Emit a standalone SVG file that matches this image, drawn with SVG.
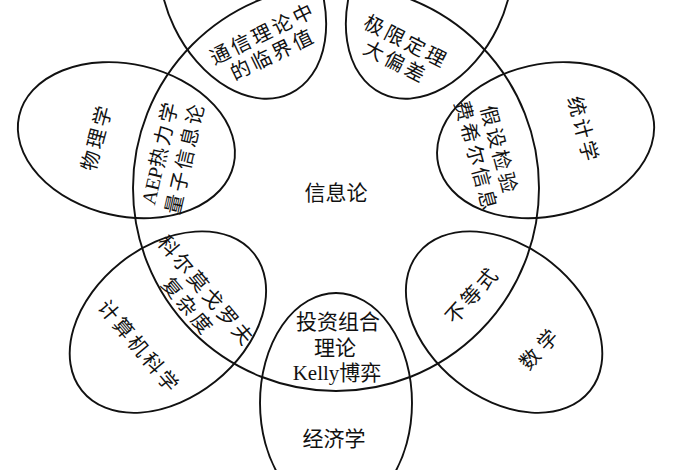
<svg xmlns="http://www.w3.org/2000/svg" width="700" height="470" viewBox="0 0 700 470">
<style>
.ring{fill:none;stroke:#111;stroke-width:1.9}
text{font-family:"Liberation Serif","Noto Sans CJK SC",serif;fill:#111;text-anchor:middle;dominant-baseline:central}
.t{font-size:20px;letter-spacing:3px}
.c{font-size:21px}
.lat{letter-spacing:0}
</style>
<rect width="700" height="470" fill="#fff"/>
<g id="info-theory">
<circle class="ring" cx="336" cy="188" r="203"/>
<text class="c" x="336" y="193">信息论</text>
</g>
<g id="communication">
<ellipse class="ring" rx="110" ry="76" transform="translate(242.7,-5.7) rotate(244.29)"/>
<g transform="translate(268,44) rotate(-26)"><text class="t" x="0" y="-11.5">通信理论中</text><text class="t" x="0" y="11.5">的临界值</text></g>
</g>
<g id="probability">
<ellipse class="ring" rx="110" ry="76" transform="translate(429.3,-5.7) rotate(295.71)"/>
<g transform="translate(401,52) rotate(27)"><text class="t" x="0" y="-11.5">极限定理</text><text class="t" x="0" y="11.5">大偏差</text></g>
</g>
<g id="physics">
<ellipse class="ring" rx="110" ry="76" transform="translate(126.4,140.2) rotate(192.86)"/>
<g transform="translate(97,137) rotate(-75)"><text class="t" x="0" y="0">物理学</text></g>
<g transform="translate(172.5,155) rotate(-77)"><text class="t" x="0" y="-13"><tspan class="lat">AEP</tspan>热力学</text><text class="t" x="0" y="13">量子信息论</text></g>
</g>
<g id="statistics">
<ellipse class="ring" rx="110" ry="76" transform="translate(545.6,140.2) rotate(347.14)"/>
<g transform="translate(583,130) rotate(75)"><text class="t" x="0" y="0">统计学</text></g>
<g transform="translate(487.5,153.5) rotate(75)"><text class="t" x="0" y="-12">假设检验</text><text class="t" x="0" y="12">费希尔信息</text></g>
</g>
<g id="computer-science">
<ellipse class="ring" rx="110" ry="76" transform="translate(167.9,322.1) rotate(141.43)"/>
<g transform="translate(139,347) rotate(50)"><text class="t" x="0" y="0">计算机科学</text></g>
<g transform="translate(197,299) rotate(50)"><text class="t" x="0" y="-12">科尔莫戈罗夫</text><text class="t" x="0" y="12">复杂度</text></g>
</g>
<g id="mathematics">
<ellipse class="ring" rx="110" ry="76" transform="translate(504.1,322.1) rotate(38.57)"/>
<g transform="translate(472.5,295) rotate(-48)"><text class="t" x="0" y="0">不等式</text></g>
<g transform="translate(541,347.5) rotate(-47)"><text class="t" x="0" y="0" style="letter-spacing:6px">数学</text></g>
</g>
<g id="economics">
<ellipse class="ring" rx="110" ry="76" transform="translate(336,403) rotate(90)"/>
<text class="c" x="338" y="322">投资组合</text>
<text class="c" x="335" y="348">理论</text>
<text class="c" x="337" y="373">Kelly博弈</text>
<text class="c" x="334" y="439">经济学</text>
</g>
</svg>
